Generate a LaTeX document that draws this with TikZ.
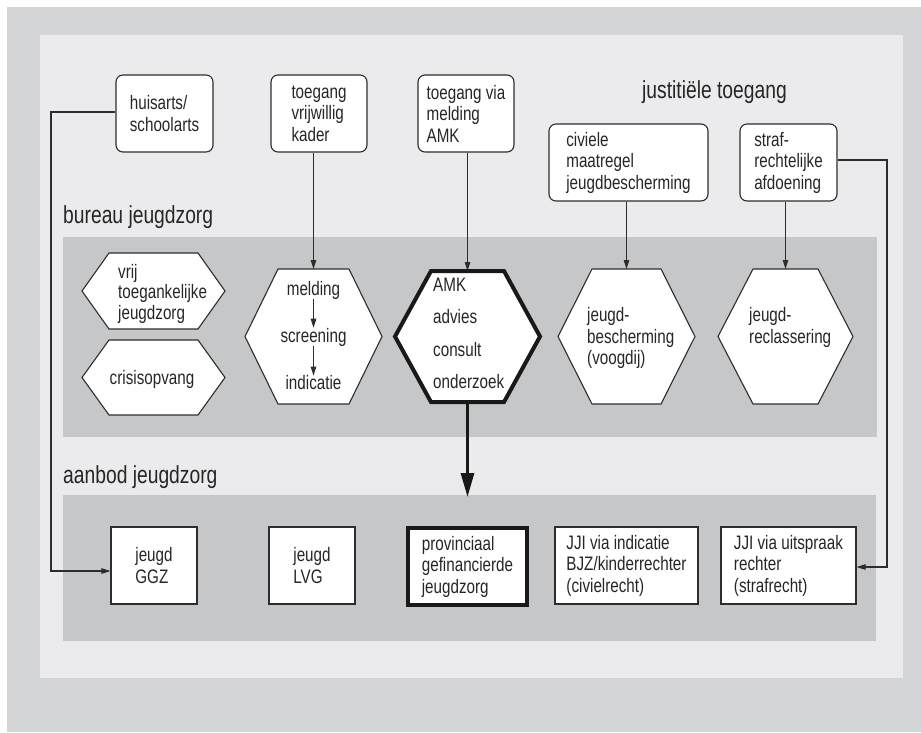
\documentclass[tikz,border=0pt]{standalone}
\usepackage{fontspec}
\setmainfont{Liberation Sans}[FakeStretch=0.78]
\usetikzlibrary{arrows.meta,calc}
\pgfdeclarelayer{bglayer}
\pgfdeclarelayer{hexlayer}
\pgfsetlayers{bglayer,hexlayer,main}
\definecolor{outergray}{RGB}{212,213,215}
\definecolor{innergray}{RGB}{235,235,237}
\definecolor{bandgray}{RGB}{198,199,201}
\definecolor{ink}{RGB}{45,45,45}
\newcommand\hexpath[3][]{%
  \begin{pgfonlayer}{hexlayer}
  \draw[hexline,#1] (#2.west) -- ([xshift=#3pt]#2.north west) -- ([xshift=-#3pt]#2.north east)
     -- (#2.east) -- ([xshift=-#3pt]#2.south east) -- ([xshift=#3pt]#2.south west) -- cycle;
  \end{pgfonlayer}}
\begin{document}
\begin{tikzpicture}[x=1pt,y=-1pt,
  txt/.style={font=\fontsize{19.5}{21.5}\selectfont, align=left, inner sep=0pt, text=black!85},
  lbl/.style={font=\fontsize{24.7}{28}\selectfont, inner sep=0pt, anchor=west, text=black!85},
  topbox/.style={txt, draw=ink, line width=1.1pt, rounded corners=7pt, fill=white, minimum height=77pt},
  botbox/.style={txt, draw=ink, line width=1.1pt, fill=white, minimum height=77pt},
  hexn/.style={rectangle, inner sep=0pt, outer sep=0pt},
  hexline/.style={draw=ink, line width=1.1pt, fill=white, line join=miter},
  conn/.style={draw=ink, line width=1.1pt, -{Triangle[length=9pt,width=5.5pt]}},
  big/.style={draw=black!90, line width=3pt, -{Triangle[length=24pt,width=13pt]}},
]
\useasboundingbox (0,0) rectangle (921,732);
\begin{pgfonlayer}{bglayer}
\fill[white] (0,0) rectangle (921,732);
\fill[outergray] (7,7) rectangle (921,732);
\fill[innergray] (40,35) rectangle (903,678);
\fill[bandgray] (63,237) rectangle (877,437);
\fill[bandgray] (63,495) rectangle (876,641);
\end{pgfonlayer}

% labels
\node[lbl] (bureau) at (63,217) {bureau jeugdzorg};
\node[lbl] (aanbod) at (63,477) {aanbod jeugdzorg};
\node[lbl] (justitie) at (642,92) {justitiële toegang};

% top boxes
\node[topbox, minimum width=97pt] (huisarts) at (164.5,113.5) {huisarts/\\schoolarts};
\node[topbox, minimum width=96pt] (vrijwillig) at (319,113.5) {toegang\\vrijwillig\\kader};
\node[topbox, minimum width=96pt] (meldamk) at (466,113.5) {toegang via\\melding\\AMK};
\node[topbox, minimum width=159pt] (civiel) at (628.5,162.5) {civiele\\maatregel\\jeugdbescherming};
\node[topbox, minimum width=97pt] (straf) at (788.5,162.5) {straf-\\rechtelijke\\afdoening};

% hexagon frames
\node[hexn, minimum width=143pt, minimum height=76pt] (vrij) at (153.5,291) {};
\node[hexn, minimum width=143pt, minimum height=75pt] (crisis) at (153.5,377.5) {};
\node[hexn, minimum width=137pt, minimum height=135pt] (screen) at (313.5,336.5) {};
\node[hexn, minimum width=145pt, minimum height=131pt] (amk) at (467.5,336.5) {};
\node[hexn, minimum width=137pt, minimum height=135pt] (bescherm) at (626.5,336.5) {};
\node[hexn, minimum width=135pt, minimum height=135pt] (reclass) at (785.5,336.5) {};
\hexpath{vrij}{27}
\hexpath{crisis}{27}
\hexpath{screen}{33}
\hexpath[line width=4pt, draw=black!90]{amk}{36}
\hexpath{bescherm}{34}
\hexpath{reclass}{35}

% hexagon texts
\node[txt, anchor=west, font=\fontsize{19.5}{20.5}\selectfont] (tvrij) at (118,293.5) {vrij\\toegankelijke\\jeugdzorg};
\node[txt] (tcrisis) at (152,379) {crisisopvang};
\node[txt] (s1) at (313.5,290) {melding};
\node[txt] (s2) at (313.5,337) {screening};
\node[txt] (s3) at (313.5,383) {indicatie};
\draw[conn] (s1) -- (s2);
\draw[conn] (s2) -- (s3);
\node[txt, anchor=west, font=\fontsize{19.5}{32.3}\selectfont] (tamk) at (433,333.5) {AMK\\advies\\consult\\onderzoek};
\node[txt, anchor=west] (tbes) at (587,338) {jeugd-\\bescherming\\(voogdij)};
\node[txt, anchor=west] (trec) at (749,327.5) {jeugd-\\reclassering};

% bottom boxes
\node[botbox, minimum width=86pt] (ggz) at (154,565.5) {jeugd\\GGZ};
\node[botbox, minimum width=86pt] (lvg) at (312,565.5) {jeugd\\LVG};
\node[botbox, minimum width=119pt, line width=4pt, draw=black!90] (prov) at (467.5,566.5) {provinciaal\\gefinancierde\\jeugdzorg};
\node[botbox, minimum width=143pt] (jji1) at (626.5,565.5) {JJI via indicatie\\BJZ/kinderrechter\\(civielrecht)};
\node[botbox, minimum width=135pt] (jji2) at (788.5,565.5) {JJI via uitspraak\\rechter\\(strafrecht)};

% connectors
\draw[conn] (vrijwillig.south -| screen.north) -- (screen.north);
\draw[conn] (meldamk.south -| amk.north) -- (amk.north);
\draw[conn] (civiel.south -| bescherm.north) -- (bescherm.north);
\draw[conn] (straf.south -| reclass.north) -- (reclass.north);

\coordinate (lx) at (51,0);
\coordinate (rx) at (887,0);
\draw[conn] ([yshift=1.5pt]huisarts.west) -- ([yshift=1.5pt]huisarts.west -| lx) |- ([yshift=-5.5pt]ggz.west);
\draw[conn] ([yshift=2.5pt]straf.east) -- ([yshift=2.5pt]straf.east -| rx) |- ([yshift=-1.5pt]jji2.east);
\draw[big] (amk.south) -- ([yshift=29pt]prov.north);
\end{tikzpicture}
\end{document}
